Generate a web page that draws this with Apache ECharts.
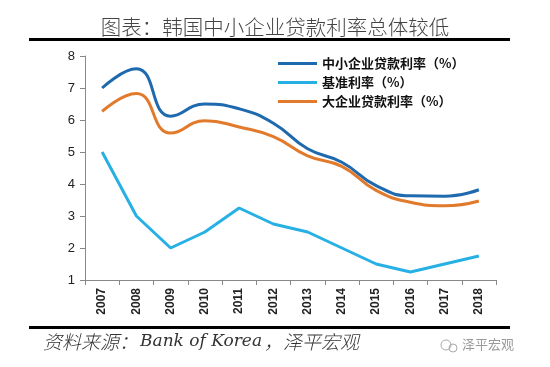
<!DOCTYPE html>
<html><head><meta charset="utf-8">
<script src="https://cdn.jsdelivr.net/npm/echarts@6/dist/echarts.min.js"></script>
<style>html,body{margin:0;padding:0;background:#fff}#c{width:550px;height:367px}</style>
</head><body><div id="c"></div>
<script>
const categories = ['2007','2008','2009','2010','2011','2012','2013','2014','2015','2016','2017','2018'];
const smeRate = [7.0, 7.6, 6.12, 6.5, 6.35, 5.9, 5.1, 4.68, 3.95, 3.63, 3.62, 3.82];
const baseRate = [5.0, 3.0, 2.0, 2.5, 3.25, 2.75, 2.5, 2.0, 1.5, 1.25, 1.5, 1.75];
const largeRate = [6.27, 6.83, 5.59, 5.98, 5.78, 5.48, 4.88, 4.55, 3.8, 3.43, 3.32, 3.47];
const yTicks = [1, 8, 1];
const names = ['中小企业贷款利率（%）', '基准利率（%）', '大企业贷款利率（%）'];

const chart = echarts.init(document.getElementById('c'), null, {renderer: 'canvas'});
chart.setOption({
  animation: false,
  backgroundColor: '#fff',
  grid: {left: 85, right: 54, top: 56, bottom: 87},
  legend: {
    orient: 'vertical', left: 278, top: 57, padding: 0, itemWidth: 39, itemHeight: 3, itemGap: 6,
    icon: 'rect',
    textStyle: {fontSize: 13, fontWeight: 'bold', color: '#111', fontFamily: 'Noto Sans CJK SC', padding: [0,0,0,0]},
    data: names
  },
  xAxis: {
    type: 'category', data: categories, boundaryGap: true,
    axisLine: {lineStyle: {color: '#888', width: 1}},
    axisTick: {show: true, length: 5, lineStyle: {color: '#888'}},
    axisLabel: {rotate: 90, fontSize: 12, fontWeight: 'bold', color: '#222', margin: 8, fontFamily: 'Liberation Sans'}
  },
  yAxis: {
    type: 'value', min: yTicks[0], max: yTicks[1], interval: yTicks[2],
    splitLine: {show: false},
    axisLine: {show: true, lineStyle: {color: '#888', width: 1}},
    axisTick: {show: true, length: 5, lineStyle: {color: '#888'}},
    axisLabel: {fontSize: 13, color: '#222', margin: 10, fontFamily: 'Liberation Sans'}
  },
  series: [
    {name: names[0], type: 'line', data: smeRate, smooth: 0.5, symbol: 'none', lineStyle: {width: 3, color: '#1f69ae'}, itemStyle: {color: '#1f69ae'}},
    {name: names[1], type: 'line', data: baseRate, smooth: false, symbol: 'none', lineStyle: {width: 3, color: '#27b0e4'}, itemStyle: {color: '#27b0e4'}},
    {name: names[2], type: 'line', data: largeRate, smooth: 0.5, symbol: 'none', lineStyle: {width: 3, color: '#e27a2c'}, itemStyle: {color: '#e27a2c'}}
  ],
  graphic: [
    {type: 'text', left: 'center', top: 17, style: {text: '图表：韩国中小企业贷款利率总体较低', fontSize: 20.5, fill: '#444', fontFamily: 'Noto Sans CJK SC', fontWeight: 300}},
    {type: 'rect', shape: {x: 29, y: 38, width: 481, height: 3}, style: {fill: '#000'}},
    {type: 'rect', shape: {x: 29, y: 326, width: 481, height: 3}, style: {fill: '#000'}},
    {type: 'text', left: 43, top: 332, style: {
      text: '{c|资料来源：}{l|Bank of Korea}{c|，泽平宏观}',
      rich: {
        c: {fontSize: 19, fontStyle: 'italic', fill: '#333', fontFamily: 'Noto Sans CJK SC', fontWeight: 300},
        l: {fontSize: 17, fontStyle: 'italic', fill: '#333', fontFamily: 'DejaVu Serif', padding: [0, 2, 0, 2]}
      }
    }},
    {type: 'circle', shape: {cx: 446, cy: 345, r: 5}, style: {fill: 'none', stroke: '#aaa', lineWidth: 1}},
    {type: 'circle', shape: {cx: 453, cy: 348, r: 4}, style: {fill: 'none', stroke: '#aaa', lineWidth: 1}},
    {type: 'text', left: 462, top: 338, style: {text: '泽平宏观', fontSize: 13, fill: '#999', fontFamily: 'Noto Sans CJK SC'}}
  ]
});
</script></body></html>
